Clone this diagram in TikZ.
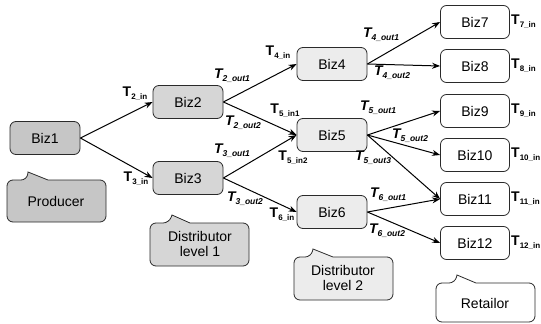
\documentclass[tikz,border=0pt]{standalone}
\usepackage{fontspec}
\setmainfont{Liberation Sans}
\usetikzlibrary{arrows.meta}
\definecolor{gA}{HTML}{C6C6C6}
\definecolor{gB}{HTML}{D6D6D6}
\definecolor{gC}{HTML}{ECECEC}
\definecolor{ln}{HTML}{2A2A2A}
\newcommand\Tin[1]{{\fontsize{14}{14}\selectfont\bfseries T}\raisebox{-3pt}{\fontsize{8}{9}\selectfont\bfseries #1}}
\newcommand\Tout[1]{{\fontsize{14}{14}\selectfont\bfseries\itshape T}\raisebox{-3pt}{\fontsize{8.5}{9}\selectfont\bfseries\itshape #1}}
\begin{document}
\begin{tikzpicture}[x=1pt,y=-1pt,
  biz/.style={draw=ln, line width=0.8pt, rounded corners=6pt, minimum width=70pt, minimum height=33pt, inner sep=0pt, font=\fontsize{14}{14}\selectfont},
  arr/.style={-{Stealth[length=8pt,width=6pt]}, line width=1pt, draw=black},
  lab/.style={inner sep=0pt},
  call/.style={draw=ln, line width=0.8pt},
  ctext/.style={inner sep=0pt, align=center, font=\fontsize{14}{14.5}\selectfont}]
\useasboundingbox (0,0) rectangle (541,324);
\fill[white] (0,0) rectangle (541,324);
% nodes
\node[biz, fill=gA] (b1) at (45,138) {Biz1};
\node[biz, fill=gB] (b2) at (188,102) {Biz2};
\node[biz, fill=gB] (b3) at (188,178) {Biz3};
\node[biz, fill=gC] (b4) at (332,64) {Biz4};
\node[biz, fill=gC] (b5) at (332,135) {Biz5};
\node[biz, fill=gC] (b6) at (332,212) {Biz6};
\node[biz, fill=white, minimum width=69pt] (b7) at (475,22) {Biz7};
\node[biz, fill=white, minimum width=69pt] (b8) at (475,66) {Biz8};
\node[biz, fill=white, minimum width=69pt] (b9) at (475,111) {Biz9};
\node[biz, fill=white, minimum width=69pt] (b10) at (475,155) {Biz10};
\node[biz, fill=white, minimum width=69pt] (b11) at (475,199) {Biz11};
\node[biz, fill=white, minimum width=69pt] (b12) at (475,243) {Biz12};
% arrows
\draw[arr] (b1.east) -- (b2.west);
\draw[arr] (b1.east) -- (b3.west);
\draw[arr] (b2.east) -- (b4.west);
\draw[arr] (b2.east) -- (b5.west);
\draw[arr] (b3.east) -- (b5.west);
\draw[arr] (b3.east) -- (b6.west);
\draw[arr] (b4.east) -- (b7.west);
\draw[arr] (b4.east) -- (b8.west);
\draw[arr] (b5.east) -- (b9.west);
\draw[arr] (b5.east) -- (b10.west);
\draw[arr] (b5.east) -- (b11.west);
\draw[arr] (b6.east) -- (b11.west);
\draw[arr] (b6.east) -- (b12.west);
% labels
\node[lab] (l2in) at (135,94) {\Tin{2\_in}};
\node[lab] (l3in) at (136,179) {\Tin{3\_in}};
\node[lab] (l2o1) at (232,76) {\Tout{2\_out1}};
\node[lab] (l2o2) at (243,123) {\Tout{2\_out2}};
\node[lab] (l4in) at (278,53) {\Tin{4\_in}};
\node[lab] (l5i1) at (285,111) {\Tin{5\_in1}};
\node[lab] (l3o1) at (232,151) {\Tout{3\_out1}};
\node[lab] (l5i2) at (293,158) {\Tin{5\_in2}};
\node[lab] (l3o2) at (245,199) {\Tout{3\_out2}};
\node[lab] (l6in) at (282,215) {\Tin{6\_in}};
\node[lab] (l4o1) at (381,35) {\Tout{4\_out1}};
\node[lab] (l4o2) at (392,73) {\Tout{4\_out2}};
\node[lab] (l5o1) at (378,108) {\Tout{5\_out1}};
\node[lab] (l5o2) at (410,136) {\Tout{5\_out2}};
\node[lab] (l5o3) at (373,158) {\Tout{5\_out3}};
\node[lab] (l6o1) at (388,195) {\Tout{6\_out1}};
\node[lab] (l6o2) at (387,231) {\Tout{6\_out2}};
\node[lab, anchor=west] (l7in) at (511,22) {\Tin{7\_in}};
\node[lab, anchor=west] (l8in) at (511,66) {\Tin{8\_in}};
\node[lab, anchor=west] (l9in) at (511,111) {\Tin{9\_in}};
\node[lab, anchor=west] (l10in) at (511,155) {\Tin{10\_in}};
\node[lab, anchor=west] (l11in) at (511,199) {\Tin{11\_in}};
\node[lab, anchor=west] (l12in) at (511,243) {\Tin{12\_in}};
% callouts
\draw[call, fill=gA] (27,180) -- (28,172) -- (48,180) [rounded corners=6pt] -- (106,180) -- (106,222) -- (7,222) -- (7,180) -- cycle;
\node[ctext] (prod) at (56,201) {Producer};
\draw[call, fill=gB] (169,223) -- (172,215) -- (190,223) [rounded corners=6pt] -- (249,223) -- (249,266) -- (150,266) -- (150,223) -- cycle;
\node[ctext] (dist1) at (200,244) {Distributor\\level 1};
\draw[call, fill=gC] (311,257) -- (313,249) -- (333,257) [rounded corners=6pt] -- (393,257) -- (393,300) -- (294,300) -- (294,257) -- cycle;
\node[ctext] (dist2) at (343,278) {Distributor\\level 2};
\draw[call, fill=white] (455,283) -- (457,275) -- (476,283) [rounded corners=6pt] -- (535,283) -- (535,322) -- (436,322) -- (436,283) -- cycle;
\node[ctext] (ret) at (485,303) {Retailor};
\end{tikzpicture}
\end{document}
